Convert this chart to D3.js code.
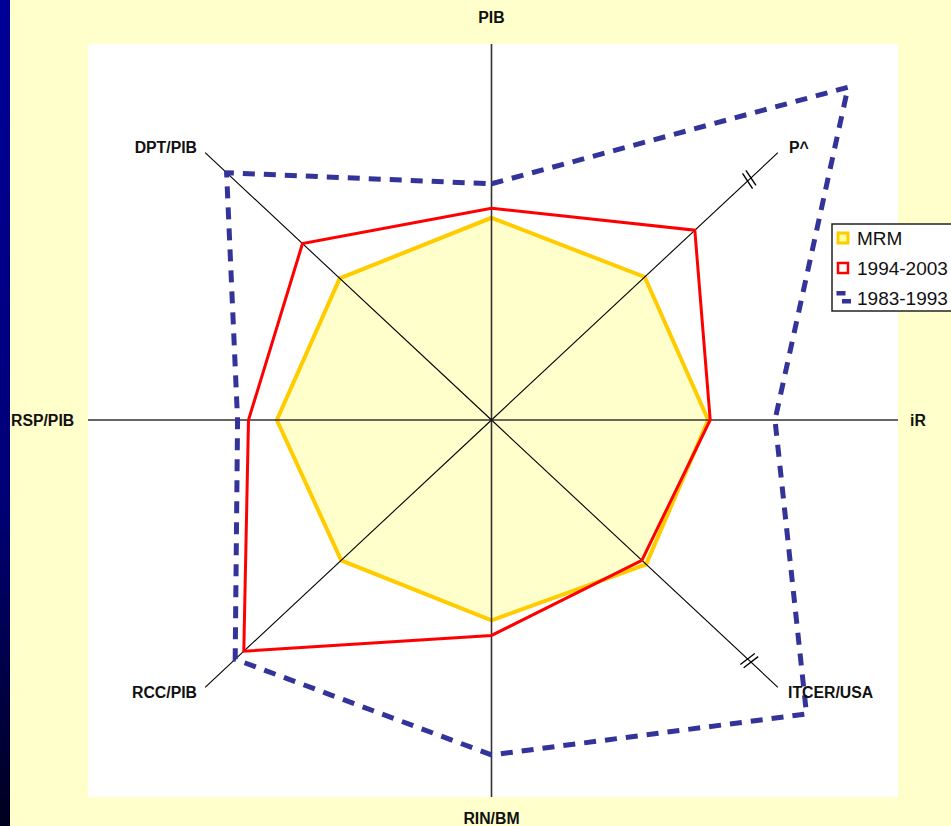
<!DOCTYPE html>
<html>
<head>
  <meta charset="utf-8">
  <script src="https://d3js.org/d3.v7.min.js"></script>
  <style>
    html, body { margin: 0; padding: 0; background: #FFFFCC; }
    svg { display: block; font-family: "Liberation Sans", Arial, sans-serif; }
  </style>
</head>
<body>
<script>
  // axes clockwise from the top
  var axes = ["PIB", "P^", "iR", "ITCER/USA", "RIN/BM", "RCC/PIB", "RSP/PIB", "DPT/PIB"];

  // values as a fraction of the axis length
  var mrm      = [0.535, 0.535, 0.535, 0.54, 0.53, 0.525, 0.53, 0.53];
  var p9403    = [0.56, 0.71, 0.54, 0.525, 0.57, 0.865, 0.60, 0.66];
  var p8393    = [0.625, 1.245, 0.70, 1.10, 0.886, 0.895, 0.627, 0.925];

  var seriesNames = ["MRM", "1994-2003", "1983-1993"];
  var breakAxes = ["P^", "ITCER/USA"];

  var width = 951, height = 826;
  var cx = 491.5, cy = 420, rx = 405, ry = 378;

  var svg = d3.select("body").append("svg")
      .attr("width", width)
      .attr("height", height);

  // left blue strip
  var grad = svg.append("defs").append("linearGradient")
      .attr("id", "strip").attr("x1", 0).attr("y1", 0).attr("x2", 0).attr("y2", 1);
  grad.append("stop").attr("offset", "0%").attr("stop-color", "#000099");
  grad.append("stop").attr("offset", "60%").attr("stop-color", "#000077");
  grad.append("stop").attr("offset", "100%").attr("stop-color", "#00001F");
  svg.append("rect").attr("width", 10).attr("height", height).attr("fill", "url(#strip)");

  // plot area
  svg.append("rect")
      .attr("x", 88).attr("y", 44)
      .attr("width", 810).attr("height", 753)
      .attr("fill", "#ffffff");

  var x = d3.scaleLinear().domain([-1, 1]).range([cx - rx, cx + rx]);
  var y = d3.scaleLinear().domain([-1, 1]).range([cy + ry, cy - ry]);
  var angle = d3.scaleLinear().domain([0, axes.length]).range([0, 2 * Math.PI]);

  function px(v, i) { return x(v * Math.sin(angle(i))); }
  function py(v, i) { return y(v * Math.cos(angle(i))); }

  var line = d3.line()
      .x(function(d, i) { return px(d, i); })
      .y(function(d, i) { return py(d, i); })
      .curve(d3.curveLinearClosed);

  // MRM filled
  svg.append("path")
      .attr("d", line(mrm))
      .attr("fill", "#FFFFCC")
      .attr("stroke", "#FFCC00")
      .attr("stroke-width", 4)
      .attr("stroke-linejoin", "miter");

  // axis lines
  svg.append("clipPath").attr("id", "plotclip").append("rect")
      .attr("x", 88).attr("y", 44).attr("width", 810).attr("height", 753);

  var g = svg.append("g").attr("clip-path", "url(#plotclip)");
  axes.forEach(function(a, i) {
    var straight = (i % 2 === 0);
    g.append("line")
        .attr("x1", cx).attr("y1", cy)
        .attr("x2", px(straight ? 1.02 : 1, i))
        .attr("y2", py(straight ? 1.02 : 1, i))
        .attr("stroke", straight ? "#333" : "#000")
        .attr("stroke-width", straight ? 1.6 : 1.1);
  });

  // break marks
  breakAxes.forEach(function(a) {
    var i = axes.indexOf(a);
    var mx = px(0.9, i), my = py(0.9, i);
    var dx = px(1, i) - cx, dy = py(1, i) - cy;
    var len = Math.sqrt(dx * dx + dy * dy);
    var ux = dx / len, uy = dy / len;   // along axis
    var nx = -uy, ny = ux;              // across axis
    [-2.3, 2.3].forEach(function(o) {
      var bx = mx + ux * o, by = my + uy * o;
      svg.append("line")
          .attr("x1", bx - nx * 9 + ux * 1.5).attr("y1", by - ny * 9 + uy * 1.5)
          .attr("x2", bx + nx * 9 - ux * 1.5).attr("y2", by + ny * 9 - uy * 1.5)
          .attr("stroke", "#000").attr("stroke-width", 1.4);
    });
  });

  // 1994-2003
  svg.append("path")
      .attr("d", line(p9403))
      .attr("fill", "none")
      .attr("stroke", "#FF0000")
      .attr("stroke-width", 3)
      .attr("stroke-linejoin", "miter");

  // 1983-1993
  svg.append("path")
      .attr("d", line(p8393))
      .attr("fill", "none")
      .attr("stroke", "#333399")
      .attr("stroke-width", 5)
      .attr("stroke-dasharray", "12,9");

  // axis labels
  var labelPos = [
    {x: cx, y: 17, anchor: "middle"},
    {x: 789, y: 147, anchor: "start"},
    {x: 910, y: 420, anchor: "start"},
    {x: 788, y: 692, anchor: "start"},
    {x: cx, y: 818, anchor: "middle"},
    {x: 197, y: 692, anchor: "end"},
    {x: 11, y: 420, anchor: "start"},
    {x: 197, y: 147, anchor: "end"}
  ];
  svg.selectAll("text.axis-label")
      .data(axes)
      .enter().append("text")
      .attr("class", "axis-label")
      .attr("x", function(d, i) { return labelPos[i].x; })
      .attr("y", function(d, i) { return labelPos[i].y; })
      .attr("dy", "0.36em")
      .attr("text-anchor", function(d, i) { return labelPos[i].anchor; })
      .attr("font-size", "15.8px")
      .attr("font-weight", "bold")
      .attr("fill", "#111")
      .text(function(d) { return d; });

  // legend
  var lg = svg.append("g").attr("transform", "translate(832,224)");
  lg.append("rect")
      .attr("width", 160).attr("height", 87)
      .attr("fill", "#fff")
      .attr("stroke", "#222")
      .attr("stroke-width", 1.5);

  seriesNames.forEach(function(name, i) {
    var ty = 14 + i * 30;
    if (i === 0) {
      lg.append("rect").attr("x", 6).attr("y", ty - 5).attr("width", 10).attr("height", 10)
          .attr("fill", "#FFFF99").attr("stroke", "#FFCC00").attr("stroke-width", 3);
    } else if (i === 1) {
      lg.append("rect").attr("x", 6).attr("y", ty - 5).attr("width", 10).attr("height", 10)
          .attr("fill", "#fff").attr("stroke", "#FF0000").attr("stroke-width", 2.5);
    } else {
      lg.append("rect").attr("x", 4.5).attr("y", ty - 7).attr("width", 9).attr("height", 4.5)
          .attr("fill", "#333399");
      lg.append("rect").attr("x", 10).attr("y", ty + 1).attr("width", 9).attr("height", 4.5)
          .attr("fill", "#333399");
    }
    lg.append("text")
        .attr("x", 25).attr("y", ty)
        .attr("dy", "0.36em")
        .attr("font-size", "19px")
        .attr("fill", "#111")
        .text(name);
  });
</script>
</body>
</html>
